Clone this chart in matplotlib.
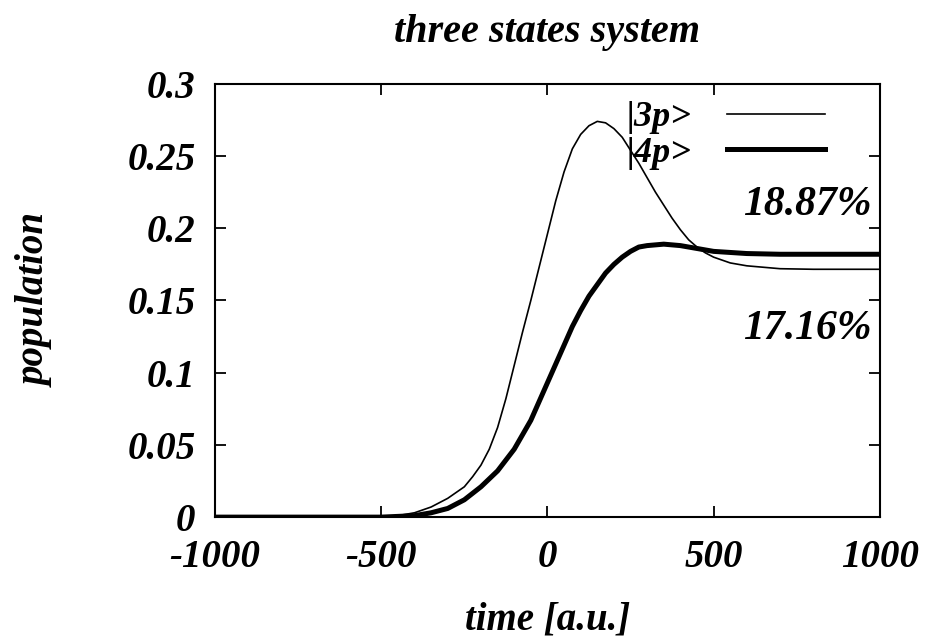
import matplotlib
matplotlib.use('Agg')
import matplotlib.pyplot as plt

plt.rcParams['font.family'] = ['Liberation Serif', 'DejaVu Serif']
plt.rcParams['font.weight'] = 'bold'
plt.rcParams['font.style'] = 'italic'
plt.rcParams['axes.unicode_minus'] = False

# values
time_3p = [-1000, -500, -450, -400, -350, -300, -250, -225, -200, -175, -150, -125, -100,
           -75, -50, -25, 0, 25, 50, 75, 100, 125, 150, 175, 200, 225, 250, 275, 300,
           325, 350, 375, 400, 425, 450, 475, 500, 550, 600, 700, 800, 1000]
pop_3p = [0, 0, 0.001, 0.003, 0.007, 0.013, 0.021, 0.028, 0.036, 0.047, 0.062, 0.082,
          0.105, 0.128, 0.150, 0.173, 0.196, 0.219, 0.239, 0.255, 0.265, 0.271, 0.274,
          0.273, 0.269, 0.263, 0.254, 0.245, 0.235, 0.225, 0.216, 0.207, 0.199, 0.192,
          0.187, 0.183, 0.180, 0.176, 0.174, 0.172, 0.1716, 0.1716]

time_4p = [-1000, -500, -450, -400, -350, -300, -250, -200, -150, -100, -50, 0, 25,
           50, 75, 100, 125, 150, 175, 200, 225, 250, 275, 300, 350, 400, 450, 500,
           600, 700, 800, 1000]
pop_4p = [0, 0, 0.0005, 0.001, 0.003, 0.006, 0.012, 0.021, 0.032, 0.047, 0.067, 0.093,
          0.106, 0.119, 0.132, 0.143, 0.153, 0.161, 0.169, 0.175, 0.180, 0.184, 0.187,
          0.188, 0.189, 0.188, 0.186, 0.184, 0.1825, 0.182, 0.182, 0.182]

labels = ['|3p>', '|4p>']
notes = ['18.87%', '17.16%']
note_y = [0.216, 0.130]

fig = plt.figure(figsize=(9.31, 6.40), dpi=100)
ax = fig.add_axes([0.231, 0.192, 0.714, 0.677])

ax.plot(time_3p, pop_3p, color='black', linewidth=1.2, label=labels[0])
ax.plot(time_4p, pop_4p, color='black', linewidth=3.6, label=labels[1])

ax.set_xlim(-1000, 1000)
ax.set_ylim(0, 0.3)
ax.set_xticks([-1000, -500, 0, 500, 1000])
ax.set_yticks([0, 0.05, 0.1, 0.15, 0.2, 0.25, 0.3])
ax.set_yticklabels(['0', '0.05', '0.1', '0.15', '0.2', '0.25', '0.3'])
ax.tick_params(direction='in', top=True, right=True, length=8, width=1.3,
               labelsize=28)
ax.tick_params(axis='x', pad=16)
ax.tick_params(axis='y', pad=14)
for s in ax.spines.values():
    s.set_linewidth(1.5)

for t, y in zip(notes, note_y):
    ax.text(975, y, t, ha='right', va='center', fontsize=30, fontweight='bold')

ax.legend(loc='upper right', bbox_to_anchor=(0.95, 1.01), markerfirst=False,
          frameon=False, fontsize=26, handlelength=2.7, handletextpad=1.0,
          labelspacing=0.05, borderaxespad=0.2)

ax.set_title('three states system', fontsize=29, fontweight='bold', pad=30)
ax.set_xlabel('time [a.u.]', fontsize=28, fontweight='bold', labelpad=18)
ax.set_ylabel('population', fontsize=28, fontweight='bold', labelpad=52)

fig.savefig('out.png', dpi=100)
